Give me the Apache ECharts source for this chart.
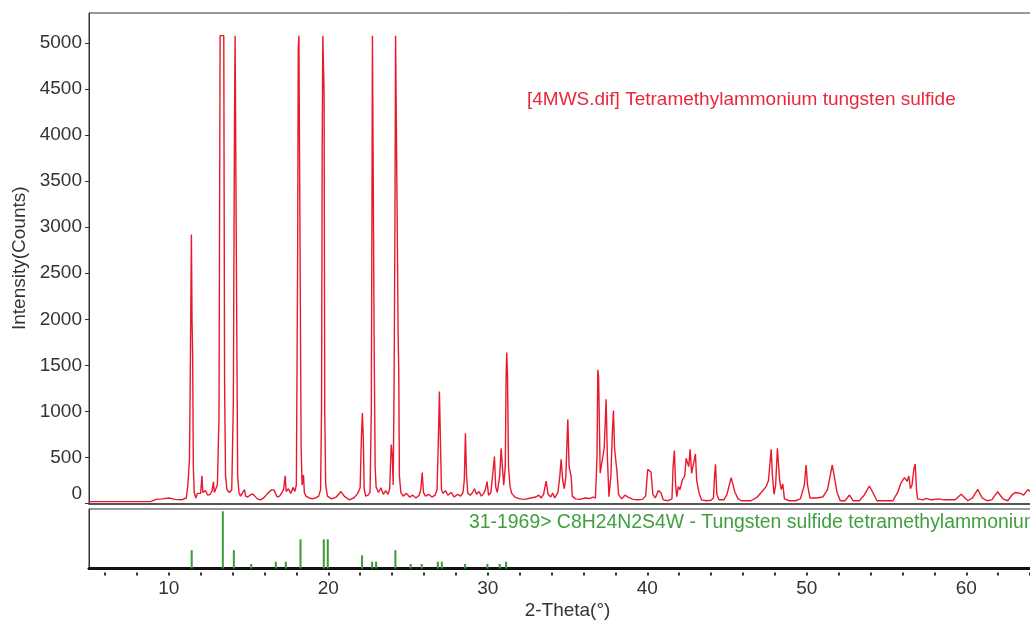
<!DOCTYPE html>
<html>
<head>
<meta charset="utf-8">
<script src="https://cdn.jsdelivr.net/npm/echarts@6/dist/echarts.min.js"></script>
<style>
html,body{margin:0;padding:0;background:#fff;overflow:hidden;width:1030px;height:623px;}
#chart{width:1060px;height:623px;}
</style>
</head>
<body>
<div id="chart"></div>
<script>
// Measured pattern (2-Theta in degrees, intensity in counts)
const twoTheta = [
5.0,8.9,9.2,9.6,10.0,10.4,10.8,11.1,11.2,11.3,11.36,11.42,11.46,11.5,11.54,11.6,11.7,11.8,11.9,12.0,
12.08,12.14,12.3,12.45,12.6,12.72,12.8,12.86,12.95,13.05,13.15,13.22,13.45,13.5,13.56,13.65,13.8,13.95,14.05,14.12,
14.16,14.22,14.27,14.32,14.4,14.5,14.6,14.75,14.82,14.95,15.1,15.25,15.4,15.55,15.75,15.95,16.2,16.45,16.6,16.8,
16.95,17.1,17.2,17.3,17.36,17.5,17.65,17.8,17.9,18.0,18.08,18.12,18.16,18.24,18.3,18.36,18.45,18.5,18.6,18.8,
19.0,19.2,19.4,19.52,19.58,19.62,19.66,19.72,19.74,19.78,19.84,19.95,20.2,20.5,20.8,21.0,21.3,21.6,21.85,22.0,
22.08,22.14,22.2,22.25,22.35,22.5,22.62,22.7,22.74,22.77,22.84,22.88,22.94,23.0,23.15,23.3,23.45,23.6,23.75,23.85,
23.95,24.02,24.07,24.13,24.18,24.22,24.3,24.32,24.38,24.42,24.46,24.55,24.7,24.9,25.1,25.3,25.5,25.7,25.8,25.89,
25.97,26.1,26.3,26.5,26.7,26.82,26.9,26.97,27.03,27.1,27.2,27.35,27.5,27.7,27.9,28.1,28.3,28.45,28.53,28.6,
28.67,28.75,28.9,29.05,29.17,29.3,29.45,29.6,29.75,29.85,29.96,30.05,30.2,30.3,30.42,30.5,30.6,30.75,30.84,30.94,
31.0,31.1,31.15,31.19,31.24,31.3,31.4,31.5,31.7,32.0,32.3,32.7,33.0,33.2,33.35,33.5,33.66,33.78,33.95,34.07,
34.2,34.4,34.52,34.6,34.7,34.8,34.9,34.98,35.02,35.1,35.23,35.3,35.5,35.8,36.1,36.4,36.6,36.69,36.75,36.85,
36.9,36.95,37.05,37.15,37.3,37.38,37.42,37.5,37.6,37.72,37.82,37.88,37.95,38.1,38.2,38.4,38.6,38.8,39.1,39.4,
39.7,39.9,40.03,40.15,40.24,40.35,40.5,40.7,40.85,41.0,41.3,41.55,41.62,41.7,41.78,41.85,41.95,42.05,42.2,42.35,
42.44,42.54,42.6,42.69,42.78,42.9,43.02,43.1,43.25,43.4,43.7,44.0,44.15,44.22,44.28,44.36,44.5,44.8,45.0,45.26,
45.5,45.7,45.9,46.5,46.9,47.2,47.45,47.6,47.7,47.77,47.85,47.95,48.05,48.16,48.23,48.3,48.4,48.5,48.6,48.9,
49.3,49.6,49.85,49.96,50.05,50.2,50.6,51.0,51.3,51.6,51.72,51.9,52.1,52.4,52.68,52.9,53.3,53.6,53.93,54.2,
54.4,55.0,55.4,55.7,55.9,56.13,56.3,56.4,56.5,56.6,56.72,56.8,56.88,56.95,57.3,57.5,57.8,58.3,58.6,59.3,
59.68,60.1,60.4,60.72,61.0,61.3,61.6,61.97,62.3,62.6,62.9,63.1,63.4,63.6,63.85,64.1,64.5,65.0
];
const intensity = [
20,22,45,50,60,45,40,60,200,480,1600,2920,1990,1600,400,120,60,110,130,110,
300,120,140,90,100,140,235,120,140,200,950,5080,5080,1320,300,150,120,150,1090,4080,
5080,5080,1740,300,120,80,110,150,80,70,90,105,80,50,40,60,110,150,145,70,
80,120,150,300,130,160,110,175,130,200,2650,4950,5080,5080,600,200,310,120,80,60,
50,60,80,150,1040,3800,5080,5080,4460,1000,200,80,50,70,130,80,40,60,110,170,
720,983,700,160,80,90,120,1010,3190,5080,5080,1690,400,180,120,170,100,140,100,160,
640,500,200,1320,3000,5080,5080,3120,1850,1450,300,120,80,110,70,90,60,90,150,335,
120,80,100,70,90,150,660,1215,700,150,110,140,90,120,70,100,80,120,255,763,
300,110,90,120,160,100,130,80,110,150,237,90,120,300,509,180,120,300,600,600,
200,400,1380,1640,1380,400,180,110,70,50,45,60,70,90,60,100,244,100,70,114,
60,120,300,480,250,160,300,726,915,400,291,80,50,45,60,55,70,90,60,500,
1451,1365,330,350,600,943,1132,500,74,300,800,1009,600,346,100,50,90,70,45,40,
45,80,372,372,340,100,60,140,120,40,30,50,400,574,200,74,183,150,255,300,
491,491,400,589,328,330,538,250,114,40,30,35,60,300,426,100,40,40,100,281,
120,50,30,30,70,130,183,250,450,589,300,100,200,600,617,250,150,212,50,30,
30,50,200,418,200,60,60,70,150,418,300,120,30,30,92,30,30,90,190,100,
30,30,30,120,220,281,240,299,160,200,380,429,150,50,40,55,40,50,40,40,
100,30,60,154,60,30,40,128,50,30,100,120,110,90,150,120,100,90
];
// Reference card 31-1969 stick pattern (relative intensity)
const refTheta = [11.44,13.39,14.08,15.17,16.71,17.34,18.26,19.72,19.97,22.12,22.75,23.0,24.21,25.17,25.86,26.87,27.12,28.58,29.98,30.75,31.15];
const refRel   = [32,100,32,8,12,12,51,51,51,23,12,12,32,8,8,12,12,8,8,8,12];
// Tick labels
const yTicks = [0,500,1000,1500,2000,2500,3000,3500,4000,4500,5000];
const xLabelTicks = [10,20,30,40,50,60];
const xMinorTicks = [6,8,10,12,14,16,18,20,22,24,26,28,30,32,34,36,38,40,42,44,46,48,50,52,54,56,58,60,62,64];
const sampleLabel = '[4MWS.dif] Tetramethylammonium tungsten sulfide';
const refLabel = '31-1969> C8H24N2S4W - Tungsten sulfide tetramethylammonium';
const yName = 'Intensity(Counts)';
const xName = '2-Theta(°)';

const FONT = '"Liberation Sans", Arial, sans-serif';
const TXT = '#333';
const mainData = twoTheta.map((t, i) => [t, intensity[i]]);
const stickData = refTheta.map((t, i) => [t, refRel[i]]);

const chart = echarts.init(document.getElementById('chart'), null, {renderer: 'canvas'});
chart.setOption({
  animation: false,
  backgroundColor: '#fff',
  grid: [
    {left: 89, width: 957, top: 13, height: 490.5, show: true, borderColor: '#333', borderWidth: 1, backgroundColor: 'transparent', outerBoundsMode: 'none'},
    {left: 89, width: 957, top: 509, height: 59.5, show: true, borderColor: '#333', borderWidth: 1, backgroundColor: 'transparent', outerBoundsMode: 'none'}
  ],
  xAxis: [
    {type: 'value', gridIndex: 0, min: 5, max: 65, axisLabel: {show: false}, axisTick: {show: false},
     splitLine: {show: false}, axisLine: {show: true, lineStyle: {color: '#555', width: 2}}},
    {type: 'value', gridIndex: 1, min: 5, max: 65, axisLabel: {show: false}, axisTick: {show: false},
     splitLine: {show: false}, axisLine: {show: true, lineStyle: {color: '#111', width: 3}}},
    {type: 'value', gridIndex: 1, min: 5, max: 65, position: 'bottom', offset: 4,
     splitLine: {show: false}, axisLine: {show: false},
     axisTick: {show: true, length: 3, customValues: xMinorTicks, lineStyle: {color: '#333', width: 2}},
     axisLabel: {show: true, customValues: xLabelTicks, margin: 7, fontSize: 19, color: TXT, fontFamily: FONT},
     name: xName, nameLocation: 'middle', nameGap: 29,
     nameTextStyle: {fontSize: 19, color: TXT, fontFamily: FONT}}
  ],
  yAxis: [
    {type: 'value', gridIndex: 0, min: 0, max: 5326, splitLine: {show: false},
     axisLine: {show: true, lineStyle: {color: '#333', width: 1}},
     axisTick: {show: true, length: 4, customValues: yTicks, lineStyle: {color: '#333'}},
     axisLabel: {show: true, customValues: yTicks, margin: 7, fontSize: 19, color: TXT, fontFamily: FONT,
       formatter: v => v === 0 ? '{z|0}' : String(v),
       rich: {z: {fontSize: 19, color: TXT, fontFamily: FONT, padding: [0, 0, 20, 0]}}},
     name: yName, nameLocation: 'middle', nameGap: 56,
     nameTextStyle: {fontSize: 19, color: TXT, fontFamily: FONT}},
    {type: 'value', gridIndex: 1, min: 0, max: 104, splitLine: {show: false},
     axisLine: {show: true, lineStyle: {color: '#333', width: 1}},
     axisTick: {show: false}, axisLabel: {show: false}}
  ],
  series: [
    {type: 'line', xAxisIndex: 0, yAxisIndex: 0, data: mainData, showSymbol: false, symbol: 'none',
     lineStyle: {color: '#e8192c', width: 1.4}, clip: true},
    {type: 'bar', xAxisIndex: 1, yAxisIndex: 1, data: stickData, barWidth: 2,
     itemStyle: {color: '#3a9a3a'}}
  ],
  graphic: [
    {type: 'text', x: 527, y: 100, style: {text: sampleLabel, fill: '#e8283c', font: '19px ' + FONT, verticalAlign: 'middle'}},
    {type: 'text', x: 469, y: 523, style: {text: refLabel, fill: '#3f9f3f', font: '19.4px ' + FONT, verticalAlign: 'middle'}}
  ]
});
</script>
</body>
</html>
